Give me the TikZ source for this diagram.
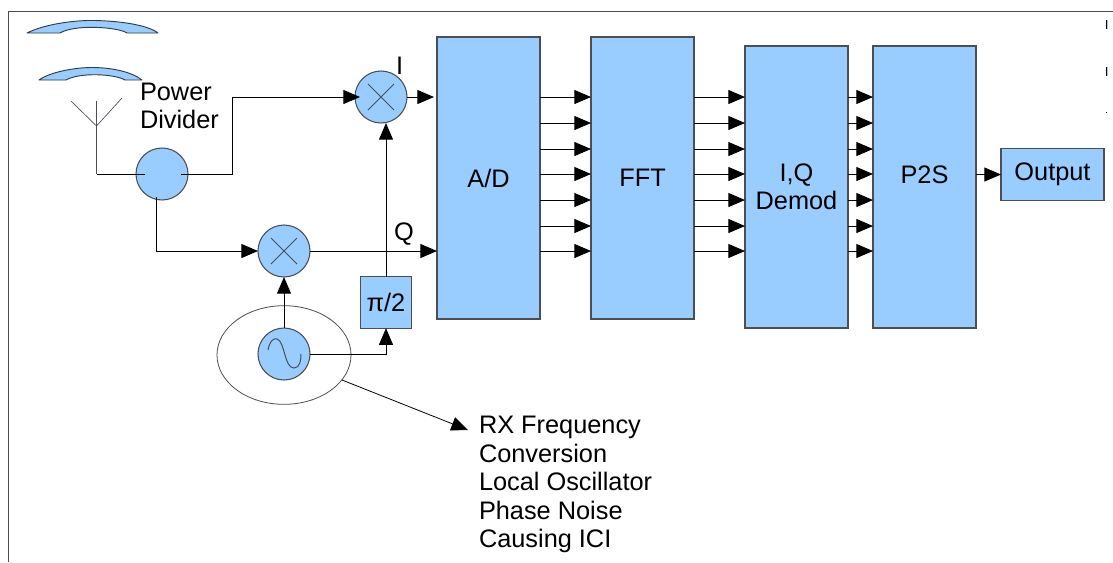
\documentclass[tikz,border=0pt]{standalone}
\usepackage{fontspec}
\setmainfont{Liberation Sans}
\usetikzlibrary{arrows.meta,calc,shapes.geometric}
\definecolor{fillblue}{HTML}{99CCFF}
\definecolor{edgegray}{HTML}{4A4F55}
\tikzset{
  x=0.75pt,y=-0.75pt,
  block/.style={draw=edgegray,fill=fillblue,line width=0.8pt,inner sep=0pt,outer sep=0pt,align=center,font=\fontsize{19}{21}\selectfont},
  disc/.style={circle,draw=edgegray,fill=fillblue,line width=0.8pt,minimum size=39pt,inner sep=0pt,outer sep=0pt},
  mixer/.style={disc,path picture={\draw[edgegray,line width=0.6pt]
     ($(path picture bounding box.center)+(-13,-13)$)--($(path picture bounding box.center)+(13,13)$)
     ($(path picture bounding box.center)+(-13,13)$)--($(path picture bounding box.center)+(13,-13)$);}},
  txt/.style={inner sep=0pt,outer sep=0pt,anchor=base west,font=\fontsize{19}{21}\selectfont},
  wire/.style={draw=black,line width=0.75pt},
  arr/.style={wire,-{Triangle[length=12.5pt,width=10.5pt]}},
  dish/.style={draw=black!70!fillblue,fill=fillblue,line width=0.7pt,line join=round},
  thin gray/.style={draw=edgegray,line width=0.75pt},
}
\begin{document}
\begin{tikzpicture}
\useasboundingbox (0,0) rectangle (1113,562);
\fill[white] (0,0) rectangle (1113,562);
% frame
\draw[edgegray,line width=0.9pt] (8.5,562) -- (8.5,11.5) -- (1113,11.5);
% stray marks at the right edge
\draw[fillblue,line width=0.75pt] (1107,20) -- (1107,29) (1107,67) -- (1107,76);
\draw[black,line width=0.6pt] (1106,20) -- (1106,29) (1106,67) -- (1106,76) (1106,112) -- (1106,113);
% reflectors
\draw[dish] (27,33) .. controls (45,24) and (75,20) .. (95,20.5) .. controls (120,21) and (148,25) .. (158,33) -- (127,33) .. controls (118,27) and (75,24) .. (60,33) -- cycle;
\draw[dish] (39,80) .. controls (50,72) and (75,67.5) .. (92,67.5) .. controls (112,67.5) and (132,72) .. (142,80) -- (125,80) .. controls (115,74) and (80,72) .. (66,80) -- cycle;
% blocks
\node[block,minimum width=77.25pt,minimum height=211.5pt] (ad) at (488.5,178) {A/D};
\node[block,minimum width=77.25pt,minimum height=211.5pt] (fft) at (642.5,178) {FFT};
\node[block,minimum width=77.25pt,minimum height=211.5pt] (iq) at (796.5,187) {I,Q\\Demod};
\node[block,minimum width=77.25pt,minimum height=211.5pt,label={[font=\fontsize{19}{21}\selectfont,yshift=9.5pt]center:P2S}] (p2s) at (924.5,187) {};
\node[block,minimum width=77.25pt,minimum height=38.5pt] (out) at (1052.5,174.5) {Output};
\node[block,minimum width=38.5pt,minimum height=38.5pt] (pi) at (386,302.5) {π/2};
% circles
\node[disc] (pd) at (162,174) {};
\node[mixer] (mi) at (381,97) {};
\node[mixer] (mq) at (284,251) {};
\node[disc] (osc) at (284,354) {};
\draw[edgegray,line width=0.75pt] (268,350) .. controls (270,340) and (274,338) .. (277,339) .. controls (285,341) and (284,368) .. (294,368) .. controls (300,368) and (301,360) .. (301,354);
% ellipse
\node[draw=edgegray,line width=0.6pt,ellipse,minimum width=100.5pt,minimum height=74pt,inner sep=0pt,outer sep=0pt] (loop) at (284,355) {};
% antenna
\coordinate (tipl) at (71,101);
\coordinate (tipr) at (122,98);
\coordinate (mast) at (96.5,126);
\coordinate (mtop) at (96.5,101);
\coordinate (mfoot) at (96.5,174);
\draw[thin gray,line width=0.5pt] (tipl) -- (mast) -- (tipr);
\draw[thin gray,line width=0.9pt] (mtop) -- (mfoot);
% power divider wiring
\coordinate (pdin) at (145,174);
\coordinate (pdout) at (181,174);
\coordinate (pddown) at (156,197);
\coordinate (mileft) at (360,97);
\coordinate (mqleft) at (258,251);
\coordinate (mibot) at (386,123);
\draw[wire] (mfoot) -- (pdin);
\draw[arr] (pdout) -- (232,174) -- (232,97) -- (mileft);
\draw[arr] (pddown) -- (pddown |- mq) -- (mqleft);
% mixer outputs
\coordinate (iend) at (434,97);
\draw[arr] (mi.east) -- (iend);
\draw[arr] (mq.east) -- (ad.west |- mq);
% oscillator
\draw[arr] (osc.north) -- (mq.south);
\draw[arr] (osc.east) -| (pi.south);
\draw[arr] (pi.north) -- (mibot);
% parallel buses
\foreach \yy in {97,123,149,174,200,226,251} {
  \draw[arr] (ad.east |- 0,\yy) -- (fft.west |- 0,\yy);
  \draw[arr] (fft.east |- 0,\yy) -- (iq.west |- 0,\yy);
  \draw[arr] (iq.east |- 0,\yy) -- (p2s.west |- 0,\yy);
}
\draw[arr] (p2s.east |- out) -- (out.west);
% callout
\coordinate (rxtip) at (468,430);
\draw[line width=0.6pt,draw=black,-{Triangle[length=12.5pt,width=10.5pt]}] (342,380) -- (rxtip);
% labels
\node[txt] (lpd1) at (140,100) {Power};
\node[txt] (lpd2) at (140,128) {Divider};
\node[txt] (li) at (396,74) {I};
\node[txt] (lq) at (394,240) {Q};
\node[txt] (rx1) at (479,433.5) {RX Frequency};
\node[txt] (rx2) at (479,462) {Conversion};
\node[txt] (rx3) at (479,490.5) {Local Oscillator};
\node[txt] (rx4) at (479,519) {Phase Noise};
\node[txt] (rx5) at (479,547.5) {Causing ICI};
\end{tikzpicture}
\end{document}
